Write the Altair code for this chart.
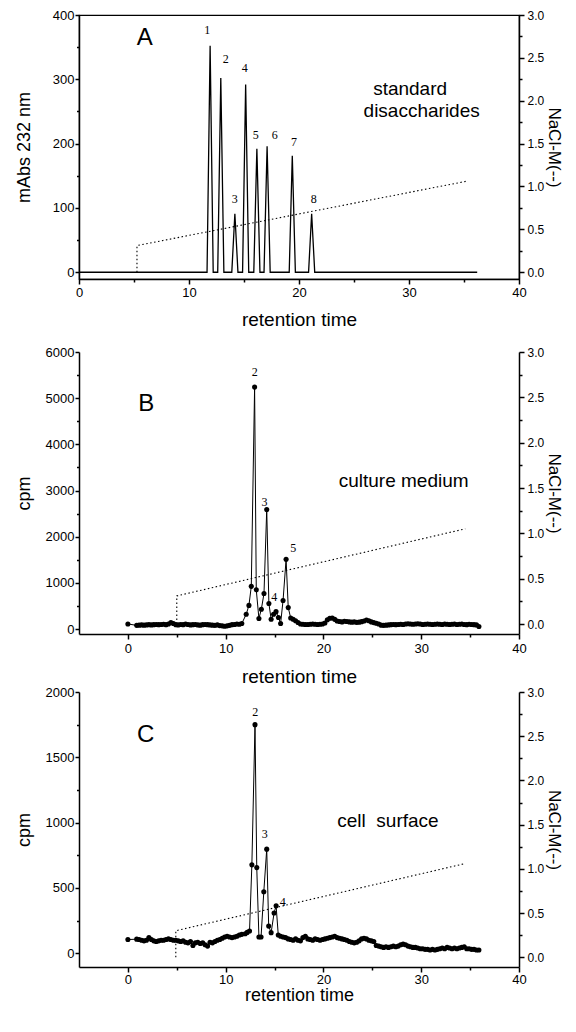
import altair as alt
import pandas as pd

FONT = "Liberation Sans"
SERIF = "Liberation Serif"

# ---------------- Panel A : standard disaccharides (mAbs 232 nm) ----------------
A_peak_time = [11.92, 12.89, 14.17, 15.15, 16.17, 17.10, 19.39, 21.15]
A_peak_mabs = [352, 302, 91, 292, 192, 196, 181, 91]
A_peak_halfwidth = 0.28
A_baseline_time = [0.0, 36.2]
A_label_text = ["1", "2", "3", "4", "5", "6", "7", "8"]
A_label_time = [11.66, 13.34, 14.15, 15.06, 16.06, 17.79, 19.55, 21.34]
A_label_mabs = [377, 332, 114, 317, 214, 214, 202, 114]
A_nacl_time = [5.27, 5.27, 35.2]
A_nacl_M = [0.0, 0.31, 1.06]
A_letter = ["A"]
A_letter_time = [5.97]
A_letter_value = [365]
A_note_text = ["standard", "disaccharides"]
A_note_time = [30.1, 31.15]
A_note_value = [285, 251]

# ---------------- Panel B : culture medium (cpm) ----------------
B_first_time = [0.0]
B_first_cpm = [110]
B_pre_start = 0.9
B_step = 0.25
B_pre_cpm = [80, 85, 90, 85, 90, 95, 90, 95, 100, 95,
             100, 105, 95, 110, 140, 120, 95, 90, 100, 95,
             110, 100, 90, 95, 100, 90, 85, 95, 100, 95,
             90, 85, 80, 90, 75, 70, 60, 70, 80, 95,
             100, 110, 105, 120]
B_peak_time = [12.1, 12.38, 12.62, 12.96, 13.13, 13.4, 13.65, 13.92, 14.2, 14.42,
               14.65, 14.9, 15.15, 15.4, 15.62, 15.87, 16.18, 16.4, 16.65, 16.9,
               17.15, 17.4]
B_peak_cpm = [320, 512, 925, 5240, 850, 228, 430, 770, 2590, 555,
              214, 320, 377, 250, 121, 619, 1510, 465, 240, 213,
              180, 142]
B_post_start = 17.65
B_post_cpm = [110, 105, 100, 100, 105, 110, 105, 100, 105, 110,
              130, 200, 235, 240, 210, 175, 165, 155, 170, 165,
              155, 150, 155, 145, 150, 160, 175, 195, 180, 155,
              140, 125, 110, 85, 80, 85, 90, 95, 100, 95,
              100, 105, 100, 110, 115, 110, 105, 110, 115, 110,
              100, 105, 110, 105, 100, 105, 110, 105, 100, 110,
              105, 100, 105, 110, 100, 105, 110, 100, 95, 105,
              100, 95, 90, 55]
B_label_text = ["2", "3", "4", "5"]
B_label_time = [12.98, 13.97, 14.97, 16.9]
B_label_cpm = [5572, 2750, 690, 1760]
B_nacl_time = [5.0, 5.0, 34.5]
B_nacl_M = [0.0, 0.31, 1.05]
B_letter = ["B"]
B_letter_time = [1.87]
B_letter_value = [4874]
B_note_text = ["culture medium"]
B_note_time = [28.2]
B_note_value = [3217]

# ---------------- Panel C : cell surface (cpm) ----------------
C_first_time = [0.0]
C_first_cpm = [105]
C_pre_start = 0.9
C_step = 0.25
C_pre_cpm = [108, 105, 100, 95, 100, 120, 105, 95, 90, 95,
             100, 100, 105, 110, 105, 100, 100, 95, 90, 95,
             85, 80, 90, 60, 80, 85, 75, 80, 65, 55,
             85, 80, 90, 100, 105, 115, 125, 130, 125, 120,
             125, 130, 140, 145]
C_peak_time = [12.0, 12.2, 12.44, 12.68, 13.0, 13.18, 13.4, 13.62, 13.9, 14.2,
               14.4, 14.65, 14.95, 15.16, 15.38, 15.62, 15.88, 16.13]
C_peak_cpm = [150, 160, 170, 677, 1750, 656, 125, 125, 471, 797,
              208, 158, 308, 363, 140, 130, 125, 120]
C_post_start = 16.4
C_post_cpm = [110, 105, 100, 110, 100, 95, 120, 130, 110, 105,
              100, 110, 105, 100, 105, 110, 115, 120, 125, 130,
              120, 115, 110, 105, 100, 90, 85, 80, 85, 95,
              110, 115, 110, 100, 95, 90, 60, 55, 50, 45,
              50, 45, 50, 55, 50, 55, 65, 70, 65, 55,
              50, 45, 45, 40, 35, 35, 30, 30, 25, 30,
              25, 30, 35, 40, 35, 45, 40, 35, 40, 35,
              40, 45, 50, 35, 35, 30, 30, 25, 25]
C_label_text = ["2", "3", "4"]
C_label_time = [13.03, 14.0, 15.85]
C_label_cpm = [1850, 915, 391]
C_nacl_time = [4.9, 4.9, 34.5]
C_nacl_M = [0.0, 0.30, 1.06]
C_letter = ["C"]
C_letter_time = [1.83]
C_letter_value = [1674]
C_note_text = ["cell\u00a0 surface"]
C_note_time = [26.6]
C_note_value = [1010]


# ---------------- tables ----------------
def a_trace():
    t = [A_baseline_time[0]]
    v = [0.0]
    for pt, ph in zip(A_peak_time, A_peak_mabs):
        t += [pt - A_peak_halfwidth, pt, pt + A_peak_halfwidth]
        v += [0.0, ph, 0.0]
    t.append(A_baseline_time[1])
    v.append(0.0)
    return pd.DataFrame({"t": t, "v": v, "i": range(len(t))})


def fraction_trace(first_t, first_v, pre_start, step, pre_v, peak_t, peak_v, post_start, post_v):
    t = list(first_t)
    v = list(first_v)
    t += [round(pre_start + step * k, 3) for k in range(len(pre_v))]
    v += pre_v
    t += peak_t
    v += peak_v
    t += [round(post_start + step * k, 3) for k in range(len(post_v))]
    v += post_v
    return pd.DataFrame({"t": t, "v": v, "i": range(len(t))})


def table(t, v, text=None):
    d = {"t": t, "v": v, "i": range(len(t))}
    if text is not None:
        d["label"] = text
    return pd.DataFrame(d)


def cond(test, major, minor):
    return {"condition": {"test": test, "value": major}, "value": minor}


def x_axis(title_pad, label_pad, title_size=19):
    return alt.Axis(
        title="retention time",
        values=[0, 5, 10, 15, 20, 25, 30, 35, 40],
        labelExpr="datum.value % 10 === 0 ? datum.label : ''",
        tickSize=cond("datum.value % 10 === 0", 5, 3),
        labelPadding=label_pad, titlePadding=title_pad,
        labelFlush=False, labelOverlap=False,
        labelFontSize=13, titleFontSize=title_size,
    )


def y_axis(title, top, step, major, title_pad):
    vals = list(range(0, top + 1, step))
    return alt.Axis(
        title=title, values=vals,
        labelExpr=f"datum.value % {major} === 0 ? datum.label : ''",
        tickSize=cond(f"datum.value % {major} === 0", 4, 2.5),
        labelPadding=1, titlePadding=title_pad, labelOverlap=False,
        labelFontSize=13, titleFontSize=18, format="d",
    )


def r_axis():
    return alt.Axis(
        title="NaCl-M(--)", orient="right",
        values=[k * 0.25 for k in range(13)],
        labelExpr="datum.value % 0.5 === 0 ? format(datum.value, '.1f') : ''",
        tickSize=cond("datum.value % 0.5 === 0", 5, 3),
        labelPadding=3, titlePadding=1, labelOverlap=False,
        labelFontSize=12, titleFontSize=17,
    )


def panel(trace, xs, ys, rs, xax, yax, labels, letter, notes, nacl, height,
          points=True, line_w=1.0, spacer=None):
    layers = [alt.Chart(trace).mark_line(color="black", strokeWidth=line_w).encode(order="i:Q")]
    if points:
        layers.append(alt.Chart(trace).mark_circle(color="black", size=26, opacity=1))
    layers.append(alt.Chart(labels).mark_text(font=SERIF, fontSize=12, color="black",
                                             baseline="middle", align="center").encode(
        text="label:N"))
    layers.append(alt.Chart(letter).mark_text(font=FONT, fontSize=24, color="black",
                                             baseline="middle", align="center").encode(
        text="label:N"))
    layers.append(alt.Chart(notes).mark_text(font=FONT, fontSize=19, color="black",
                                            baseline="middle", align="center").encode(
        text="label:N"))
    left = alt.layer(*layers).encode(
        x=alt.X("t:Q", scale=xs, axis=xax),
        y=alt.Y("v:Q", scale=ys, axis=yax),
    )
    right = alt.Chart(nacl).mark_line(color="black", strokeWidth=1.1, strokeDash=[1.5, 2.5]).encode(
        x=alt.X("t:Q", scale=xs, axis=xax),
        y=alt.Y("v:Q", scale=rs, axis=r_axis()),
        order="i:Q",
    )
    out = alt.layer(left, right).resolve_scale(y="independent")
    if spacer is not None:
        sp = alt.Chart(pd.DataFrame({"s": ["."]})).mark_text(
            fontSize=4, opacity=0, baseline="top").encode(
            x=alt.value(0), y=alt.value(spacer), text="s:N")
        out = alt.layer(out, sp)
    return out.properties(width=440, height=height)


xA = alt.Scale(domain=[0, 40], nice=False, zero=False)
xBC = alt.Scale(domain=[-5, 40], nice=False, zero=False)

chartA = panel(
    a_trace(), xA,
    alt.Scale(domain=[-10.5, 400], nice=False, zero=False),
    alt.Scale(domain=[-0.08, 3.0], nice=False, zero=False),
    x_axis(11, 2), y_axis("mAbs 232 nm", 400, 50, 100, 19),
    table(A_label_time, A_label_mabs, A_label_text),
    table(A_letter_time, A_letter_value, A_letter),
    table(A_note_time, A_note_value, A_note_text),
    table(A_nacl_time, A_nacl_M), 264, points=False, line_w=1.3,
).properties(view=alt.ViewBackground(stroke="black", strokeWidth=1.2))

chartB = panel(
    fraction_trace(B_first_time, B_first_cpm, B_pre_start, B_step, B_pre_cpm,
                   B_peak_time, B_peak_cpm, B_post_start, B_post_cpm), xBC,
    alt.Scale(domain=[-107, 6000], nice=False, zero=False),
    alt.Scale(domain=[-0.11, 3.0], nice=False, zero=False),
    x_axis(12, 3), y_axis("cpm", 6000, 500, 1000, 12),
    table(B_label_time, B_label_cpm, B_label_text),
    table(B_letter_time, B_letter_value, B_letter),
    table(B_note_time, B_note_value, B_note_text),
    table(B_nacl_time, B_nacl_M), 282, spacer=-22,
)

chartC = panel(
    fraction_trace(C_first_time, C_first_cpm, C_pre_start, C_step, C_pre_cpm,
                   C_peak_time, C_peak_cpm, C_post_start, C_post_cpm), xBC,
    alt.Scale(domain=[-105, 2000], nice=False, zero=False),
    alt.Scale(domain=[-0.11, 3.0], nice=False, zero=False),
    x_axis(0, 1, 18), y_axis("cpm", 2000, 250, 500, 12),
    table(C_label_time, C_label_cpm, C_label_text),
    table(C_letter_time, C_letter_value, C_letter),
    table(C_note_time, C_note_value, C_note_text),
    table(C_nacl_time, C_nacl_M), 275,
)

chart = alt.vconcat(chartA, chartB, chartC, spacing=0).properties(
    padding={"left": 6, "top": 0, "right": 0, "bottom": 0}
).configure_axis(
    labelFont=FONT, titleFont=FONT, labelColor="black", titleColor="black",
    domainColor="black", tickColor="black", domainWidth=1.5, tickWidth=1.5,
    grid=False, titleFontWeight="normal",
).configure_view(stroke=None)

chart.save("out.html", embed_options={"renderer": "svg", "actions": False})
